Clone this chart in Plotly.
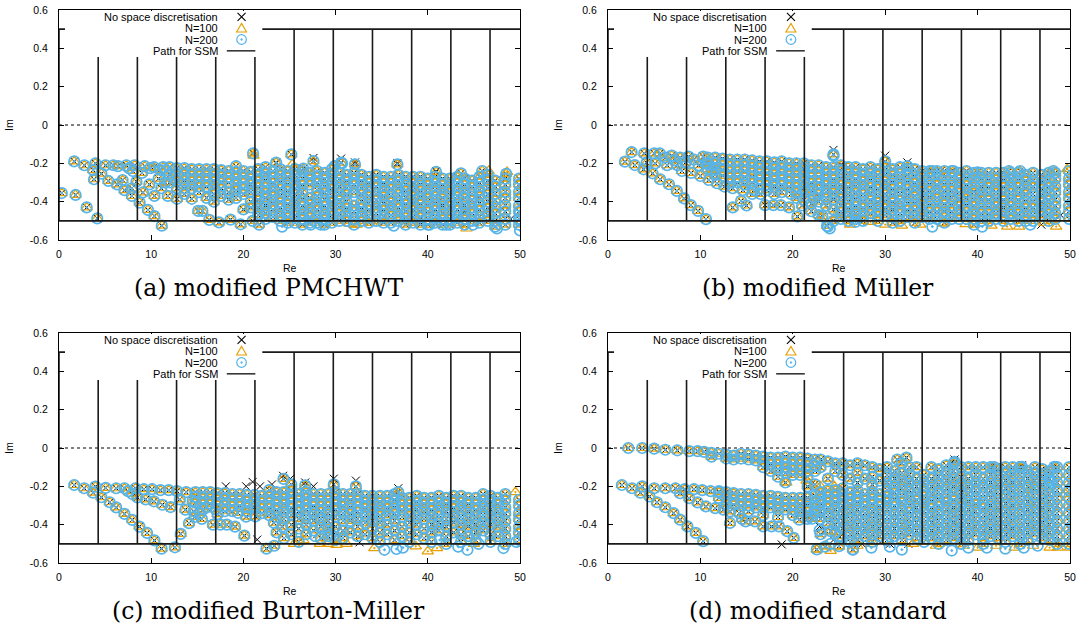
import plotly.graph_objects as go

# ---------------- text / ticks ----------------
captions = ["(a) modified PMCHWT", "(b) modified Müller",
            "(c) modified Burton-Miller", "(d) modified standard"]
legend_labels = ["No space discretisation", "N=100", "N=200", "Path for SSM"]
x_tick_vals = [0, 10, 20, 30, 40, 50]
x_tick_text = ["0", "10", "20", "30", "40", "50"]
y_tick_vals = [-0.6, -0.4, -0.2, 0, 0.2, 0.4, 0.6]
y_tick_text = ["-0.6", "-0.4", "-0.2", "0", "0.2", "0.4", "0.6"]

# ---------------- SSM path ----------------
ssm_div_re = [4.25, 8.5, 12.75, 17.0, 21.25, 25.5, 29.75, 34.0, 38.25, 42.5, 46.75]
ssm_div_top = [0.355, 0.355, 0.355, 0.355, 0.355, 0.5, 0.5, 0.5, 0.5, 0.5, 0.5]
ssm_re_span = [0, 50]
ssm_low = -0.5
ssm_high = 0.5

# ---------------- panel (a): modified PMCHWT ----------------
a_pts = [(0.3, -0.355), (1.65, -0.19), (1.8, -0.365), (2.75, -0.21), (3.0, -0.43), (3.95, -0.20),
         (3.7, -0.235), (3.8, -0.283), (4.15, -0.487), (4.6, -0.254), (5.05, -0.21), (5.35, -0.292),
         (5.9, -0.21), (6.3, -0.31), (6.4, -0.215), (6.9, -0.287), (7.1, -0.34), (7.3, -0.21),
         (7.6, -0.225), (7.9, -0.33), (7.9, -0.37), (8.0, -0.24), (8.2, -0.21), (8.4, -0.295),
         (8.75, -0.405), (9.0, -0.25), (9.1, -0.352), (9.3, -0.215), (9.65, -0.443), (9.8, -0.31),
         (9.9, -0.225), (10.3, -0.22), (10.35, -0.37), (10.35, -0.475), (10.8, -0.28), (11.0, -0.235),
         (11.1, -0.33), (11.15, -0.525), (11.3, -0.22), (11.5, -0.30), (11.8, -0.37), (11.6, -0.235),
         (15.1, -0.448), (15.55, -0.448), (16.3, -0.495), (17.35, -0.508), (18.6, -0.494),
         (19.7, -0.518), (21.05, -0.148), (21.0, -0.50), (21.7, -0.52), (23.55, -0.196),
         (25.2, -0.153), (26.5, -0.228), (27.6, -0.188), (29.9, -0.214), (30.6, -0.196),
         (32.1, -0.205), (36.7, -0.205), (40.9, -0.245), (43.6, -0.252), (45.9, -0.24), (48.5, -0.255)]
a_band_re = [12.0, 12.8, 13.6, 14.4, 15.2, 16.0, 16.8, 17.6, 18.4, 19.2, 20.0, 20.8,
             21.6, 22.4, 23.2, 24.0, 24.8, 25.6, 26.4, 27.2, 28.0, 28.8, 29.6, 30.4, 31.2, 32.0,
             32.8, 33.6, 34.4, 35.2, 36.0, 36.8, 37.6, 38.4, 39.2, 40.0, 40.8, 41.6, 42.4, 43.2,
             44.0, 44.8, 45.6, 46.5, 47.3, 48.4, 49.9]
a_band_im = [
    [-0.22, -0.26, -0.30],
    [-0.225, -0.26, -0.29, -0.33, -0.385],
    [-0.225, -0.255, -0.29, -0.33, -0.36],
    [-0.23, -0.26, -0.29, -0.33, -0.385],
    [-0.23, -0.26, -0.29, -0.32, -0.35],
    [-0.23, -0.26, -0.29, -0.32, -0.38],
    [-0.23, -0.26, -0.29, -0.33, -0.36, -0.40],
    [-0.235, -0.265, -0.30, -0.33, -0.37],
    [-0.24, -0.27, -0.30, -0.35, -0.39],
    [-0.215, -0.245, -0.275, -0.31, -0.34, -0.38],
    [-0.24, -0.27, -0.30, -0.33, -0.36, -0.44],
    [-0.245, -0.275, -0.31, -0.35, -0.40, -0.43],
    [-0.23, -0.26, -0.29, -0.32, -0.36, -0.39, -0.43, -0.47],
    [-0.22, -0.25, -0.29, -0.32, -0.35, -0.38, -0.42, -0.46, -0.49],
    [-0.24, -0.27, -0.30, -0.34, -0.37, -0.41, -0.44, -0.48],
    [-0.23, -0.26, -0.30, -0.33, -0.37, -0.40, -0.43, -0.47, -0.50],
    [-0.24, -0.27, -0.31, -0.34, -0.38, -0.41, -0.45, -0.48, -0.51],
    [-0.23, -0.26, -0.30, -0.33, -0.36, -0.40, -0.44, -0.47, -0.51],
    [-0.24, -0.28, -0.31, -0.35, -0.39, -0.42, -0.46, -0.49, -0.52],
    [-0.25, -0.28, -0.31, -0.38, -0.41, -0.45, -0.48, -0.51],
    [-0.24, -0.27, -0.30, -0.34, -0.37, -0.41, -0.44, -0.48, -0.51],
    [-0.25, -0.28, -0.32, -0.35, -0.39, -0.42, -0.46, -0.49, -0.52],
    [-0.23, -0.26, -0.30, -0.33, -0.37, -0.40, -0.44, -0.47, -0.51],
    [-0.25, -0.28, -0.32, -0.36, -0.39, -0.43, -0.46, -0.50],
    [-0.26, -0.29, -0.33, -0.36, -0.40, -0.43, -0.47, -0.50],
    [-0.25, -0.28, -0.31, -0.35, -0.42, -0.45, -0.49, -0.52],
    [-0.26, -0.29, -0.33, -0.36, -0.40, -0.43, -0.47, -0.50],
    [-0.27, -0.30, -0.34, -0.37, -0.41, -0.44, -0.48, -0.51],
    [-0.26, -0.29, -0.32, -0.36, -0.39, -0.43, -0.46, -0.50],
    [-0.27, -0.30, -0.34, -0.37, -0.41, -0.44, -0.48, -0.51],
    [-0.27, -0.30, -0.33, -0.37, -0.40, -0.44, -0.47, -0.51],
    [-0.26, -0.29, -0.33, -0.36, -0.40, -0.43, -0.47, -0.50],
    [-0.27, -0.31, -0.34, -0.38, -0.41, -0.45, -0.48, -0.52],
    [-0.27, -0.30, -0.34, -0.37, -0.41, -0.44, -0.48, -0.51],
    [-0.27, -0.31, -0.34, -0.38, -0.41, -0.45, -0.48, -0.52],
    [-0.28, -0.31, -0.35, -0.38, -0.42, -0.45, -0.49, -0.52],
    [-0.27, -0.30, -0.34, -0.37, -0.41, -0.44, -0.48, -0.51],
    [-0.28, -0.31, -0.35, -0.38, -0.42, -0.46, -0.49, -0.52],
    [-0.28, -0.32, -0.35, -0.39, -0.42, -0.46, -0.49, -0.52],
    [-0.27, -0.30, -0.34, -0.37, -0.41, -0.44, -0.48, -0.51],
    [-0.28, -0.31, -0.35, -0.38, -0.42, -0.46, -0.49, -0.52],
    [-0.29, -0.32, -0.36, -0.39, -0.43, -0.46, -0.50],
    [-0.27, -0.30, -0.34, -0.37, -0.41, -0.44, -0.48, -0.51],
    [-0.26, -0.29, -0.33, -0.36, -0.40, -0.43, -0.47, -0.50],
    [-0.29, -0.32, -0.36, -0.39, -0.43, -0.46, -0.50, -0.53],
    [-0.28, -0.31, -0.35, -0.38, -0.42, -0.45, -0.49, -0.52],
    [-0.28, -0.31, -0.35, -0.38, -0.42, -0.45, -0.49, -0.52]]
a_exact_extra = [(27.6, -0.172), (30.6, -0.175), (32.1, -0.195), (36.7, -0.198), (23.55, -0.2),
                 (40.9, -0.24), (44.0, -0.45), (45.3, -0.39), (41.1, -0.43), (35.4, -0.38),
                 (21.5, -0.40), (31.3, -0.50), (39.0, -0.50), (49.0, -0.49), (46.8, -0.49)]
a_n100_extra = [(25.3, -0.205), (44.2, -0.54), (46.6, -0.24), (48.6, -0.245), (32.3, -0.52),
                (31.5, -0.515), (38.0, -0.51), (27.8, -0.23), (21.1, -0.16), (33.9, -0.51)]
a_n200_extra = [(24.2, -0.53), (47.5, -0.54), (27.3, -0.52), (28.4, -0.52), (36.3, -0.525),
                (40.2, -0.52), (42.0, -0.52), (44.9, -0.52), (30.7, -0.2), (50.0, -0.55),
                (50.0, -0.50), (50.0, -0.45)]

# ---------------- panel (b): modified Müller ----------------
b_pts = [(1.84, -0.191), (2.56, -0.141), (2.9, -0.209), (3.92, -0.148), (3.85, -0.231), (4.18, -0.196),
         (4.83, -0.252), (5.0, -0.148), (5.6, -0.148), (5.1, -0.20), (5.65, -0.283), (6.2, -0.17),
         (6.4, -0.21), (6.6, -0.309), (6.9, -0.16), (7.2, -0.185), (7.45, -0.344), (7.5, -0.21),
         (7.8, -0.17), (8.0, -0.24), (8.24, -0.383), (8.4, -0.195), (8.7, -0.165), (8.96, -0.418),
         (9.0, -0.25), (9.3, -0.18), (9.75, -0.448), (9.8, -0.21), (10.0, -0.266), (10.3, -0.165),
         (10.6, -0.491), (10.6, -0.20), (10.9, -0.287), (11.2, -0.235), (11.8, -0.304), (12.6, -0.321),
         (13.5, -0.43), (13.5, -0.33), (14.4, -0.396), (14.6, -0.34), (15.0, -0.42), (15.8, -0.34),
         (16.5, -0.36), (17.0, -0.418), (17.9, -0.418), (18.0, -0.36), (18.7, -0.418), (19.6, -0.43),
         (19.8, -0.36), (20.4, -0.38), (20.5, -0.477), (21.4, -0.35), (22.3, -0.378), (23.2, -0.477),
         (23.7, -0.526), (24.4, -0.153), (21.0, -0.42), (22.0, -0.45), (30.0, -0.19), (32.4, -0.215),
         (35.1, -0.24), (37.4, -0.24), (40.0, -0.247), (43.4, -0.24), (44.6, -0.24), (48.2, -0.24)]
b_band_re = [10.8, 11.6, 12.4, 13.2, 14.0, 14.8, 15.6, 16.4, 17.2, 18.0, 18.8, 19.6, 20.4, 21.2,
             22.0, 22.8, 23.6, 24.4, 25.2, 26.0, 26.8, 27.6, 28.4, 29.2, 30.0, 30.8, 31.6, 32.4,
             33.2, 34.0, 34.8, 35.6, 36.4, 37.2, 38.0, 38.8, 39.6, 40.4, 41.2, 42.0, 42.8, 43.6,
             44.4, 45.2, 46.0, 46.9, 47.7, 48.4, 49.9]
b_band_im = [
    [-0.17, -0.20, -0.23],
    [-0.17, -0.20, -0.23, -0.26],
    [-0.175, -0.205, -0.235, -0.265],
    [-0.18, -0.21, -0.24, -0.27, -0.30],
    [-0.18, -0.21, -0.24, -0.27, -0.30],
    [-0.18, -0.21, -0.24, -0.27, -0.31],
    [-0.185, -0.215, -0.245, -0.27, -0.30, -0.36],
    [-0.19, -0.22, -0.25, -0.28, -0.31],
    [-0.19, -0.22, -0.25, -0.28, -0.31, -0.34],
    [-0.195, -0.225, -0.255, -0.285, -0.32],
    [-0.19, -0.22, -0.25, -0.28, -0.31, -0.35],
    [-0.20, -0.23, -0.26, -0.29, -0.32],
    [-0.20, -0.23, -0.26, -0.29, -0.32, -0.35],
    [-0.20, -0.23, -0.26, -0.29, -0.33, -0.39],
    [-0.21, -0.24, -0.27, -0.30, -0.34, -0.41],
    [-0.21, -0.24, -0.27, -0.30, -0.33, -0.36, -0.40, -0.47],
    [-0.22, -0.25, -0.28, -0.31, -0.35, -0.38, -0.42],
    [-0.22, -0.25, -0.28, -0.32, -0.35, -0.39, -0.44, -0.50],
    [-0.21, -0.24, -0.28, -0.31, -0.35, -0.38, -0.42, -0.45, -0.49],
    [-0.22, -0.25, -0.29, -0.32, -0.36, -0.40, -0.43, -0.47, -0.50],
    [-0.22, -0.25, -0.28, -0.32, -0.35, -0.39, -0.42, -0.46, -0.49],
    [-0.23, -0.26, -0.29, -0.33, -0.36, -0.40, -0.43, -0.47, -0.50],
    [-0.22, -0.25, -0.29, -0.32, -0.36, -0.39, -0.43, -0.46],
    [-0.23, -0.26, -0.30, -0.33, -0.37, -0.40, -0.44, -0.47, -0.50],
    [-0.22, -0.26, -0.29, -0.33, -0.36, -0.40, -0.43, -0.47],
    [-0.23, -0.26, -0.30, -0.33, -0.37, -0.40, -0.44, -0.48, -0.51],
    [-0.22, -0.25, -0.29, -0.32, -0.36, -0.39, -0.43, -0.46, -0.50],
    [-0.23, -0.26, -0.30, -0.33, -0.37, -0.41, -0.44, -0.48],
    [-0.23, -0.27, -0.30, -0.34, -0.37, -0.41, -0.44, -0.48, -0.51],
    [-0.24, -0.27, -0.31, -0.34, -0.38, -0.41, -0.45, -0.48],
    [-0.24, -0.27, -0.31, -0.34, -0.38, -0.42, -0.45, -0.49],
    [-0.24, -0.28, -0.31, -0.35, -0.38, -0.42, -0.45, -0.49],
    [-0.24, -0.27, -0.31, -0.34, -0.38, -0.41, -0.45, -0.48, -0.51],
    [-0.24, -0.27, -0.31, -0.34, -0.38, -0.42, -0.45, -0.49],
    [-0.25, -0.28, -0.32, -0.35, -0.39, -0.42, -0.46, -0.49],
    [-0.24, -0.28, -0.31, -0.35, -0.38, -0.42, -0.45, -0.49],
    [-0.25, -0.28, -0.32, -0.35, -0.39, -0.42, -0.46, -0.49, -0.52],
    [-0.25, -0.28, -0.32, -0.36, -0.39, -0.43, -0.46, -0.50],
    [-0.25, -0.29, -0.32, -0.36, -0.39, -0.43, -0.46, -0.50],
    [-0.25, -0.28, -0.32, -0.35, -0.39, -0.42, -0.46, -0.49],
    [-0.25, -0.29, -0.32, -0.36, -0.39, -0.43, -0.47, -0.50],
    [-0.25, -0.28, -0.32, -0.35, -0.39, -0.42, -0.46, -0.49],
    [-0.25, -0.29, -0.32, -0.36, -0.39, -0.43, -0.46, -0.50],
    [-0.26, -0.29, -0.33, -0.36, -0.40, -0.43, -0.47, -0.50],
    [-0.25, -0.29, -0.32, -0.36, -0.40, -0.43, -0.47, -0.50],
    [-0.26, -0.30, -0.33, -0.37, -0.40, -0.44, -0.47],
    [-0.25, -0.29, -0.32, -0.36, -0.39, -0.43, -0.46, -0.50],
    [-0.25, -0.28, -0.32, -0.35, -0.39, -0.42, -0.46, -0.49],
    [-0.24, -0.28, -0.31, -0.35, -0.38, -0.42, -0.45, -0.49]]
b_exact_extra = [(24.4, -0.13), (30.0, -0.16), (32.4, -0.195), (25.5, -0.215), (36.0, -0.24),
                 (22.8, -0.31), (28.5, -0.33), (40.0, -0.36), (43.5, -0.43), (46.9, -0.52),
                 (49.0, -0.47), (27.3, -0.50), (38.7, -0.38)]
b_n100_extra = [(28.4, -0.505), (31.8, -0.525), (38.7, -0.517), (41.5, -0.525), (43.2, -0.53),
                (44.5, -0.53), (48.5, -0.53), (49.7, -0.23), (26.2, -0.52), (30.0, -0.52),
                (33.8, -0.52), (36.3, -0.515), (47.2, -0.51), (23.5, -0.45), (24.7, -0.47)]
b_n200_extra = [(24.4, -0.16), (35.1, -0.53), (23.8, -0.53), (24.0, -0.54), (40.5, -0.53),
                (45.7, -0.52), (26.8, -0.505)]

# ---------------- panel (c): modified Burton-Miller ----------------
c_pts = [(1.65, -0.193), (2.73, -0.21), (3.7, -0.233), (3.95, -0.201), (4.6, -0.257), (5.06, -0.208),
         (5.5, -0.283), (6.2, -0.21), (6.2, -0.31), (7.1, -0.344), (7.1, -0.21), (7.5, -0.225),
         (7.94, -0.375), (7.94, -0.24), (8.3, -0.21), (8.5, -0.258), (8.73, -0.41), (9.2, -0.215),
         (9.4, -0.268), (9.55, -0.443), (10.1, -0.215), (10.3, -0.278), (10.35, -0.482), (11.0, -0.22),
         (11.2, -0.296), (11.13, -0.525), (11.9, -0.22), (12.1, -0.308), (12.57, -0.518), (12.8, -0.225),
         (13.1, -0.268), (13.2, -0.448), (13.7, -0.322), (13.8, -0.23), (14.1, -0.392), (14.6, -0.33),
         (14.7, -0.36), (14.5, -0.275), (15.3, -0.34), (15.5, -0.37), (16.7, -0.40), (17.5, -0.40),
         (18.2, -0.40), (19.1, -0.41), (20.1, -0.457), (19.4, -0.338), (20.3, -0.358), (21.3, -0.357),
         (22.5, -0.525), (23.35, -0.51), (24.35, -0.161), (23.3, -0.39), (24.2, -0.41), (16.0, -0.31),
         (17.0, -0.32), (18.0, -0.33), (25.2, -0.19), (26.7, -0.195), (29.8, -0.19), (32.2, -0.2),
         (36.8, -0.23)]
c_band_re = [14.8, 15.6, 16.4, 17.2, 18.0, 18.8, 19.6, 20.4, 21.2, 22.0,
             22.8, 23.6, 24.4, 25.2, 26.0, 26.8, 27.6, 28.4, 29.2, 30.0, 30.8, 31.6, 32.4, 33.2,
             34.0, 34.8, 35.6, 36.4, 37.2, 38.0, 38.8, 39.6, 40.4, 41.2, 42.0, 42.8, 43.6, 44.4,
             45.2, 46.0, 46.8, 47.6, 48.4, 49.9]
c_band_im = [
    [-0.23, -0.255, -0.285],
    [-0.23, -0.26, -0.29, -0.32],
    [-0.23, -0.26, -0.29],
    [-0.235, -0.265, -0.295, -0.345],
    [-0.235, -0.265, -0.30],
    [-0.24, -0.27, -0.30, -0.33],
    [-0.24, -0.27, -0.30],
    [-0.245, -0.275, -0.31, -0.33],
    [-0.245, -0.275, -0.31],
    [-0.25, -0.28, -0.31, -0.34],
    [-0.22, -0.25, -0.28, -0.31, -0.35],
    [-0.23, -0.26, -0.29, -0.32, -0.36, -0.44],
    [-0.23, -0.26, -0.29, -0.33, -0.37, -0.47],
    [-0.22, -0.25, -0.28, -0.31, -0.35, -0.40, -0.45],
    [-0.24, -0.27, -0.30, -0.33, -0.37, -0.42, -0.49],
    [-0.23, -0.26, -0.29, -0.32, -0.36, -0.40, -0.45],
    [-0.24, -0.27, -0.30, -0.34, -0.38, -0.43],
    [-0.24, -0.27, -0.30, -0.33, -0.37, -0.41, -0.47],
    [-0.24, -0.27, -0.30, -0.34, -0.38, -0.42, -0.46],
    [-0.23, -0.26, -0.29, -0.32, -0.36, -0.41, -0.48],
    [-0.24, -0.27, -0.30, -0.34, -0.38, -0.43, -0.47],
    [-0.24, -0.27, -0.31, -0.34, -0.38, -0.44],
    [-0.24, -0.27, -0.30, -0.33, -0.37, -0.41, -0.46],
    [-0.25, -0.28, -0.31, -0.35, -0.39, -0.45],
    [-0.25, -0.28, -0.31, -0.34, -0.38, -0.42, -0.47],
    [-0.25, -0.28, -0.32, -0.35, -0.39, -0.44, -0.49],
    [-0.25, -0.28, -0.31, -0.35, -0.40, -0.45],
    [-0.24, -0.27, -0.31, -0.34, -0.38, -0.43, -0.48],
    [-0.26, -0.29, -0.32, -0.36, -0.41, -0.46],
    [-0.26, -0.29, -0.32, -0.35, -0.39, -0.44, -0.49],
    [-0.25, -0.28, -0.32, -0.36, -0.40, -0.45],
    [-0.26, -0.29, -0.33, -0.37, -0.42, -0.47],
    [-0.26, -0.29, -0.32, -0.36, -0.40, -0.44, -0.49],
    [-0.25, -0.28, -0.32, -0.35, -0.39, -0.43],
    [-0.26, -0.29, -0.33, -0.37, -0.41, -0.46, -0.50],
    [-0.25, -0.28, -0.31, -0.35, -0.39, -0.44],
    [-0.25, -0.28, -0.32, -0.36, -0.40, -0.45, -0.49],
    [-0.26, -0.29, -0.33, -0.37, -0.41, -0.46],
    [-0.26, -0.29, -0.32, -0.36, -0.40, -0.44, -0.48],
    [-0.24, -0.27, -0.31, -0.35, -0.39, -0.43],
    [-0.25, -0.28, -0.32, -0.36, -0.40, -0.45, -0.49],
    [-0.26, -0.29, -0.33, -0.37, -0.41, -0.46],
    [-0.24, -0.27, -0.31, -0.34, -0.38, -0.42, -0.46, -0.50],
    [-0.27, -0.30, -0.34, -0.37, -0.41, -0.44, -0.48]]
c_exact_extra = [(18.1, -0.20), (20.3, -0.20), (21.0, -0.177), (21.8, -0.20), (23.1, -0.19),
                 (21.5, -0.478), (24.3, -0.145), (25.1, -0.16), (26.7, -0.18), (27.6, -0.20),
                 (29.8, -0.16), (32.2, -0.17), (36.8, -0.21), (32.6, -0.492), (43.6, -0.42),
                 (41.5, -0.40), (45.5, -0.42), (28.0, -0.45), (30.0, -0.44)]
c_n100_extra = [(28.3, -0.50), (29.2, -0.50), (30.1, -0.505), (34.2, -0.522), (38.7, -0.513),
                (40.0, -0.539), (41.0, -0.522), (25.5, -0.50), (31.2, -0.50), (45.0, -0.50),
                (26.5, -0.48), (33.5, -0.42), (49.5, -0.23)]
c_n200_extra = [(35.3, -0.531), (36.6, -0.527), (37.3, -0.52), (41.3, -0.48), (43.3, -0.515),
                (44.3, -0.531), (45.5, -0.50), (48.2, -0.522), (49.6, -0.49), (27.8, -0.46),
                (29.5, -0.45)]

# ---------------- panel (d): modified standard ----------------
d_pts = [(2.2, 0.0), (3.7, 0.0), (5.0, -0.003), (6.2, -0.009), (7.5, -0.012), (8.8, -0.016),
         (9.7, -0.016), (1.5, -0.193), (2.6, -0.21), (3.5, -0.233), (3.7, -0.20), (4.5, -0.253),
         (5.0, -0.21), (5.3, -0.283), (6.2, -0.21), (6.2, -0.309), (7.1, -0.34), (7.3, -0.21),
         (7.8, -0.374), (7.8, -0.236), (8.3, -0.215), (8.6, -0.409), (8.8, -0.262), (9.3, -0.215),
         (9.5, -0.443), (9.7, -0.284), (10.2, -0.22), (10.3, -0.486), (10.6, -0.305), (11.1, -0.225),
         (11.6, -0.314), (12.0, -0.225), (12.5, -0.322), (13.2, -0.331), (13.2, -0.391), (14.2, -0.34),
         (14.5, -0.37), (14.9, -0.383), (15.9, -0.383), (16.8, -0.409), (17.7, -0.409), (18.5, -0.409),
         (19.4, -0.434), (20.1, -0.469), (20.7, -0.374), (21.6, -0.357), (22.1, -0.369), (22.6, -0.529),
         (23.5, -0.515), (24.1, -0.434), (25.0, -0.46), (25.0, -0.512), (26.5, -0.529),
         (31.3, -0.06), (32.3, -0.05), (37.5, -0.072), (41.8, -0.10), (44.8, -0.098), (48.3, -0.098)]
d_band_re = [10.4, 11.2, 12.0, 12.8, 13.6, 14.4, 15.2, 16.0, 16.8, 17.6, 18.4, 19.2, 20.0, 20.8,
             21.6, 22.4, 23.0, 23.8, 24.6, 25.4, 26.2, 27.0, 27.8, 28.6, 29.4, 30.2, 31.0, 31.8,
             32.6, 33.4, 34.2, 35.0, 35.8, 36.6, 37.4, 38.2, 39.0, 39.8, 40.6, 41.4, 42.2, 43.0,
             43.8, 44.6, 45.4, 46.2, 47.0, 47.8, 48.6, 49.9]
d_band_im = [
    [-0.02],
    [-0.025, -0.045],
    [-0.03, -0.23, -0.26],
    [-0.035, -0.055, -0.23, -0.26, -0.29],
    [-0.04, -0.06, -0.235, -0.265, -0.295],
    [-0.03, -0.055, -0.24, -0.27, -0.30],
    [-0.035, -0.06, -0.24, -0.27, -0.30, -0.33],
    [-0.04, -0.065, -0.245, -0.275, -0.31],
    [-0.045, -0.07, -0.10, -0.25, -0.28, -0.31, -0.35],
    [-0.05, -0.08, -0.12, -0.25, -0.28, -0.31],
    [-0.05, -0.08, -0.11, -0.15, -0.255, -0.285, -0.32, -0.36],
    [-0.045, -0.075, -0.10, -0.13, -0.18, -0.26, -0.29, -0.32],
    [-0.05, -0.08, -0.11, -0.14, -0.26, -0.29, -0.32, -0.35],
    [-0.05, -0.08, -0.11, -0.14, -0.26, -0.29, -0.33],
    [-0.055, -0.085, -0.12, -0.15, -0.20, -0.26, -0.30, -0.33, -0.37],
    [-0.06, -0.09, -0.12, -0.19, -0.25, -0.28, -0.31, -0.34],
    [-0.06, -0.10, -0.23, -0.26, -0.29, -0.33, -0.37, -0.45],
    [-0.07, -0.16, -0.22, -0.25, -0.28, -0.31, -0.35, -0.39],
    [-0.08, -0.12, -0.22, -0.25, -0.28, -0.32, -0.36, -0.40, -0.44],
    [-0.08, -0.14, -0.21, -0.24, -0.27, -0.30, -0.34, -0.38, -0.42],
    [-0.09, -0.16, -0.23, -0.26, -0.29, -0.33, -0.37, -0.41, -0.45, -0.49],
    [-0.08, -0.13, -0.18, -0.22, -0.25, -0.28, -0.32, -0.36, -0.40, -0.44, -0.48],
    [-0.09, -0.16, -0.24, -0.27, -0.30, -0.34, -0.38, -0.42, -0.46],
    [-0.10, -0.15, -0.19, -0.23, -0.26, -0.29, -0.33, -0.37, -0.41, -0.45, -0.49],
    [-0.11, -0.17, -0.24, -0.27, -0.30, -0.34, -0.38, -0.42, -0.46],
    [-0.10, -0.14, -0.18, -0.22, -0.25, -0.28, -0.32, -0.36, -0.40, -0.44, -0.48],
    [-0.12, -0.16, -0.20, -0.23, -0.27, -0.30, -0.34, -0.38, -0.42, -0.46],
    [-0.08, -0.13, -0.17, -0.21, -0.25, -0.28, -0.32, -0.36, -0.40, -0.44, -0.48],
    [-0.10, -0.14, -0.18, -0.22, -0.26, -0.30, -0.33, -0.37, -0.41, -0.45],
    [-0.10, -0.16, -0.20, -0.24, -0.27, -0.31, -0.35, -0.39, -0.43, -0.47],
    [-0.14, -0.18, -0.22, -0.25, -0.29, -0.33, -0.37, -0.41, -0.45, -0.49],
    [-0.10, -0.16, -0.20, -0.24, -0.28, -0.31, -0.35, -0.39, -0.43, -0.47],
    [-0.11, -0.15, -0.19, -0.23, -0.27, -0.30, -0.34, -0.38, -0.42, -0.46, -0.50],
    [-0.09, -0.13, -0.17, -0.21, -0.25, -0.28, -0.32, -0.36, -0.40, -0.44, -0.48],
    [-0.08, -0.12, -0.16, -0.20, -0.24, -0.27, -0.31, -0.35, -0.39, -0.43, -0.47],
    [-0.10, -0.15, -0.19, -0.23, -0.27, -0.30, -0.34, -0.38, -0.42, -0.46, -0.50],
    [-0.10, -0.16, -0.20, -0.24, -0.28, -0.32, -0.36, -0.40, -0.44, -0.48],
    [-0.10, -0.14, -0.18, -0.22, -0.26, -0.29, -0.33, -0.37, -0.41, -0.45],
    [-0.10, -0.16, -0.20, -0.24, -0.28, -0.31, -0.35, -0.39, -0.43, -0.47, -0.50],
    [-0.10, -0.14, -0.18, -0.22, -0.26, -0.30, -0.34, -0.38, -0.42, -0.46],
    [-0.11, -0.15, -0.19, -0.23, -0.27, -0.31, -0.35, -0.39, -0.43, -0.47],
    [-0.10, -0.13, -0.17, -0.21, -0.25, -0.29, -0.33, -0.37, -0.41, -0.45, -0.49],
    [-0.10, -0.14, -0.18, -0.22, -0.26, -0.30, -0.34, -0.38, -0.42, -0.46],
    [-0.10, -0.14, -0.18, -0.22, -0.26, -0.30, -0.34, -0.38, -0.42, -0.46, -0.50],
    [-0.12, -0.16, -0.20, -0.24, -0.28, -0.32, -0.36, -0.40, -0.44, -0.48],
    [-0.10, -0.13, -0.17, -0.21, -0.25, -0.29, -0.33, -0.37, -0.41, -0.45],
    [-0.11, -0.15, -0.19, -0.23, -0.27, -0.31, -0.35, -0.39, -0.43, -0.47],
    [-0.12, -0.16, -0.20, -0.24, -0.28, -0.32, -0.36, -0.40, -0.44, -0.48],
    [-0.10, -0.14, -0.18, -0.22, -0.26, -0.30, -0.34, -0.38, -0.42, -0.46, -0.50],
    [-0.10, -0.14, -0.18, -0.22, -0.26, -0.30, -0.34, -0.38, -0.42, -0.46, -0.50]]
d_exact_extra = [(18.8, -0.503), (22.9, -0.41), (22.0, -0.19), (23.5, -0.43), (24.4, -0.48),
                 (25.4, -0.45), (27.5, -0.50), (29.5, -0.49), (30.5, -0.50), (32.5, -0.50),
                 (37.5, -0.06), (42.0, -0.10), (47.5, -0.12), (48.5, -0.49), (43.5, -0.43),
                 (38.0, -0.21), (30.8, -0.15), (44.8, -0.09), (41.5, -0.10), (32.0, -0.065)]
d_n100_extra = [(22.6, -0.53), (24.1, -0.537), (25.0, -0.515), (23.5, -0.51), (27.0, -0.51),
                (28.5, -0.50), (33.0, -0.50), (35.5, -0.51), (38.5, -0.51), (40.0, -0.52),
                (42.0, -0.51), (44.0, -0.52), (46.0, -0.51), (47.8, -0.52), (48.7, -0.52),
                (50.0, -0.52), (23.0, -0.20), (24.5, -0.20), (19.3, -0.18), (21.5, -0.17),
                (49.5, -0.24), (45.5, -0.22), (37.8, -0.17)]
d_n200_extra = [(24.1, -0.50), (26.5, -0.53), (28.5, -0.52), (30.5, -0.515), (31.8, -0.53),
                (37.2, -0.535), (39.0, -0.52), (41.0, -0.52), (43.0, -0.525), (45.0, -0.52),
                (46.5, -0.51), (47.8, -0.17), (48.0, -0.18), (22.9, -0.43), (25.4, -0.47)]

# ---------------- styling / layout constants ----------------
ORANGE = "#E69F00"
BLUE = "#56B4E9"
PATH_COLOR = "#1a1a1a"
W, H = 1077, 625
panel_px = {  # left, right, top, bottom in pixels
    "a": (59, 520, 10, 240), "b": (608, 1070, 10, 240),
    "c": (59, 520, 333, 563), "d": (608, 1070, 333, 563)}

panels = {
    "a": (a_pts, a_band_re, a_band_im, a_exact_extra, a_n100_extra, a_n200_extra),
    "b": (b_pts, b_band_re, b_band_im, b_exact_extra, b_n100_extra, b_n200_extra),
    "c": (c_pts, c_band_re, c_band_im, c_exact_extra, c_n100_extra, c_n200_extra),
    "d": (d_pts, d_band_re, d_band_im, d_exact_extra, d_n100_extra, d_n200_extra),
}


def expand(pts, band_re, band_im, extra):
    xs = [p[0] for p in pts]
    ys = [p[1] for p in pts]
    for r, col in zip(band_re, band_im):
        for v in col:
            xs.append(r)
            ys.append(v)
    xs += [p[0] for p in extra]
    ys += [p[1] for p in extra]
    return xs, ys


def ssm_path():
    xs, ys = [], []
    for level in (ssm_low, ssm_high):
        xs += [ssm_re_span[0], ssm_re_span[1], None]
        ys += [level, level, None]
    xs += [ssm_re_span[0], ssm_re_span[0], None]
    ys += [ssm_low, ssm_high, None]
    for r, t in zip(ssm_div_re, ssm_div_top):
        xs += [r, r, None]
        ys += [ssm_low, t, None]
    return xs, ys


fig = go.Figure()
layout = dict(width=W, height=H, margin=dict(l=0, r=0, t=0, b=0, autoexpand=False),
              paper_bgcolor="white", plot_bgcolor="white", showlegend=False,
              font=dict(family="Liberation Sans, Arial, sans-serif", size=11, color="black"))
shapes, annotations = [], []
path_x, path_y = ssm_path()

# key layout (in data units of each panel)
key_text_x = 17.35
key_sym_x = 19.8
key_rows = [0.564, 0.504, 0.446, 0.387]

for i, key in enumerate(["a", "b", "c", "d"]):
    n = "" if i == 0 else str(i + 1)
    xa, ya = "x" + n, "y" + n
    l, r, t, b = panel_px[key]
    pts, bre, bim, ex_x, ex_100, ex_200 = panels[key]

    xs, ys = expand(pts, bre, bim, ex_x)
    fig.add_trace(go.Scatter(x=xs, y=ys, mode="markers", xaxis=xa, yaxis=ya,
                             name=legend_labels[0],
                             marker=dict(symbol="x-thin-open", size=8, color="black",
                                         line=dict(color="black", width=1))))
    xs, ys = expand(pts, bre, bim, ex_100)
    fig.add_trace(go.Scatter(x=xs, y=ys, mode="markers", xaxis=xa, yaxis=ya,
                             name=legend_labels[1],
                             marker=dict(symbol="triangle-up-open-dot", size=10, color=ORANGE,
                                         line=dict(color=ORANGE, width=1.2))))
    xs, ys = expand(pts, bre, bim, ex_200)
    fig.add_trace(go.Scatter(x=xs, y=ys, mode="markers", xaxis=xa, yaxis=ya,
                             name=legend_labels[2],
                             marker=dict(symbol="circle-open-dot", size=10.5, color=BLUE,
                                         line=dict(color=BLUE, width=1.7))))
    fig.add_trace(go.Scatter(x=path_x, y=path_y, mode="lines", xaxis=xa, yaxis=ya,
                             name=legend_labels[3],
                             line=dict(color=PATH_COLOR, width=1.6)))

    axis_common = dict(showline=True, mirror="allticks", linecolor="black", linewidth=1,
                       ticks="inside", ticklen=5, tickcolor="black", showgrid=False,
                       zeroline=False, tickfont=dict(size=10.5, color="black"))
    layout["xaxis" + n] = dict(axis_common, domain=[l / W, r / W], range=[0, 50],
                               anchor=ya, tickvals=x_tick_vals, ticktext=x_tick_text,
                               ticklabelstandoff=4)
    layout["yaxis" + n] = dict(axis_common, domain=[1 - b / H, 1 - t / H], range=[-0.6, 0.6],
                               anchor=xa, tickvals=y_tick_vals, ticktext=y_tick_text,
                               ticklabelstandoff=8)

    # dotted zero line
    shapes.append(dict(type="line", xref=xa + " domain", yref=ya, x0=0, x1=1, y0=0, y1=0,
                       line=dict(color="black", width=1, dash="dot"), layer="below"))
    # opaque key box
    shapes.append(dict(type="rect", xref=xa, yref=ya, x0=0.65, x1=22.05, y0=0.365, y1=0.595,
                       fillcolor="white", line=dict(width=0), layer="above"))
    # key samples (drawn as pixel-sized shapes)
    sym = dict(xref=xa, yref=ya, xsizemode="pixel", ysizemode="pixel", xanchor=key_sym_x,
               layer="above")
    shapes.append(dict(sym, type="path", yanchor=key_rows[0],
                       path="M-4,-4 L4,4 M-4,4 L4,-4", line=dict(color="black", width=1.1)))
    shapes.append(dict(sym, type="path", yanchor=key_rows[1],
                       path="M-5,-3.6 L5,-3.6 L0,5 Z", line=dict(color=ORANGE, width=1.1)))
    shapes.append(dict(sym, type="circle", yanchor=key_rows[2], x0=-4.8, x1=4.8, y0=-4.8, y1=4.8,
                       line=dict(color=BLUE, width=1.2)))
    shapes.append(dict(sym, type="circle", yanchor=key_rows[2], x0=-0.9, x1=0.9, y0=-0.9, y1=0.9,
                       fillcolor=BLUE, line=dict(color=BLUE, width=0.5)))
    shapes.append(dict(type="line", xref=xa, yref=ya, x0=18.2, x1=21.3,
                       y0=key_rows[3], y1=key_rows[3],
                       line=dict(color=PATH_COLOR, width=1.4), layer="above"))
    for lab, yy in zip(legend_labels, key_rows):
        annotations.append(dict(xref=xa, yref=ya, x=key_text_x, y=yy, text=lab, showarrow=False,
                                xanchor="right", yanchor="middle", borderpad=0,
                                font=dict(size=11, color="black")))
    # axis titles
    annotations.append(dict(xref="paper", yref="paper", x=(l - 50) / W, y=1 - (t + b) / 2 / H,
                            text="Im", textangle=-90, showarrow=False,
                            xanchor="center", yanchor="middle", font=dict(size=10.5)))
    annotations.append(dict(xref="paper", yref="paper", x=(l + r) / 2 / W, y=1 - (b + 28) / H,
                            text="Re", showarrow=False, xanchor="center", yanchor="middle",
                            font=dict(size=10.5)))
    # caption
    annotations.append(dict(xref="paper", yref="paper", x=(l + r) / 2 / W - 21 / W,
                            y=1 - (b + 48) / H, text=captions[i], showarrow=False,
                            xanchor="center", yanchor="middle",
                            font=dict(family="DejaVu Serif", size=23.5, color="black")))

layout["shapes"] = shapes
layout["annotations"] = annotations
fig.update_layout(**layout)
fig.write_html("out.html", config={"displayModeBar": False},
               post_script="document.body.style.margin='0';")
